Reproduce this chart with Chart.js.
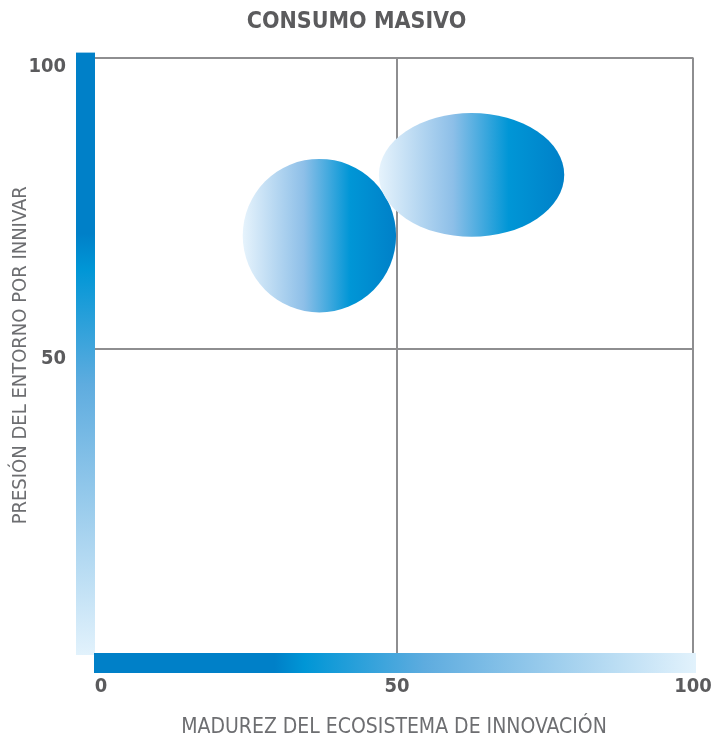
<!DOCTYPE html>
<html>
<head>
<meta charset="utf-8">
<script src="https://cdn.jsdelivr.net/npm/chart.js@4"></script>
<style>
  html, body { margin: 0; background: #fff; }
</style>
</head>
<body>
<canvas id="chart" width="713" height="740"></canvas>
<script>
// data
const sectors = ["Sector A", "Sector B"];
const madurez = [36.9, 62.6];        // x centre
const presion = [69.5, 79.9];        // y centre
const spanMadurez = [25.9, 31.3];    // bubble extent along x (axis units)
const spanPresion = [26.3, 21.2];    // bubble extent along y (axis units)
const tickValues = [0, 50, 100];

const FONT = "'Liberation Sans Narrow', 'DejaVu Sans Condensed', 'Roboto', sans-serif";
const DARK = "#0080c8";
const CYAN = "#0096d6";
const LIGHT = "#e2f2fc";

const points = madurez.map((x, i) => ({
  x,
  y: presion[i],
  sx: spanMadurez[i],
  sy: spanPresion[i],
  name: sectors[i],
}));

// axis colour bars beside the plot
const axisBars = {
  id: "axisBars",
  afterDraw(chart) {
    const { ctx, chartArea: a } = chart;
    ctx.save();
    // left bar: dark at top, light at bottom
    const top = a.top - 5, bot = a.bottom + 2;
    let g = ctx.createLinearGradient(0, top, 0, bot);
    g.addColorStop(0, DARK);
    g.addColorStop(0.3, DARK);
    g.addColorStop(0.36, CYAN);
    g.addColorStop(0.55, "#5eacdf");
    g.addColorStop(1, LIGHT);
    ctx.fillStyle = g;
    ctx.fillRect(a.left - 19, top, 19, bot - top);
    // bottom bar: dark at left, light at right
    const l = a.left - 1, r = a.right + 3;
    g = ctx.createLinearGradient(l, 0, r, 0);
    g.addColorStop(0, DARK);
    g.addColorStop(0.3, DARK);
    g.addColorStop(0.35, CYAN);
    g.addColorStop(0.55, "#5eacdf");
    g.addColorStop(1, LIGHT);
    ctx.fillStyle = g;
    ctx.fillRect(l, a.bottom, r - l, 20);
    ctx.restore();
  },
};

// draws each point as an ellipse whose extent comes from the scales
const ellipseBubbles = {
  id: "ellipseBubbles",
  afterDatasetsDraw(chart) {
    const { ctx, scales } = chart;
    const meta = chart.getDatasetMeta(0);
    ctx.save();
    meta.data.forEach((el, i) => {
      const p = points[i];
      const rx = Math.abs(scales.x.getPixelForValue(p.x + p.sx / 2) - el.x);
      const ry = Math.abs(scales.y.getPixelForValue(p.y + p.sy / 2) - el.y);
      const g = ctx.createLinearGradient(el.x - rx, 0, el.x + rx, 0);
      g.addColorStop(0, "#e6f3fc");
      g.addColorStop(0.4, "#8dbfe8");
      g.addColorStop(0.7, CYAN);
      g.addColorStop(1, DARK);
      ctx.fillStyle = g;
      ctx.beginPath();
      ctx.ellipse(el.x, el.y, rx, ry, 0, 0, Math.PI * 2);
      ctx.fill();
    });
    ctx.restore();
  },
};

const gridColor = (c) =>
  c.tick && c.tick.value === 0 ? "rgba(0,0,0,0)" : "#8e8e90";

new Chart(document.getElementById("chart"), {
  type: "scatter",
  data: {
    datasets: [
      {
        label: "Consumo masivo",
        data: points,
        pointRadius: 0,
        pointHoverRadius: 0,
      },
    ],
  },
  options: {
    responsive: false,
    animation: false,
    devicePixelRatio: 1,
    layout: { padding: 0 },
    plugins: {
      legend: { display: false },
      tooltip: { enabled: false },
      title: {
        display: true,
        text: "CONSUMO MASIVO",
        color: "#5b5b5d",
        font: { family: FONT, size: 23, weight: "bold" },
        padding: { top: 8, bottom: 22 },
      },
    },
    scales: {
      x: {
        type: "linear",
        min: -1,
        max: 100,
        afterBuildTicks: (s) => { s.ticks = tickValues.map((v) => ({ value: v })); },
        afterFit: (s) => { s.height = 87; s.paddingLeft = 0; s.paddingRight = 20; },
        border: { display: false },
        grid: { color: gridColor, lineWidth: 2, drawTicks: false },
        ticks: {
          padding: 22,
          color: "#5b5b5d",
          font: { family: FONT, size: 20, weight: "bold" },
          maxRotation: 0,
        },
        title: {
          display: true,
          text: "MADUREZ DEL ECOSISTEMA DE INNOVACIÓN",
          color: "#6d6e71",
          font: { family: FONT, size: 21 },
          padding: { top: 10, bottom: 0 },
        },
      },
      y: {
        type: "linear",
        min: -2,
        max: 100,
        afterBuildTicks: (s) => { s.ticks = tickValues.filter((v) => v > 0).map((v) => ({ value: v })); },
        afterFit: (s) => { s.width = 95; s.paddingTop = 0; s.paddingBottom = 0; },
        border: { display: false },
        grid: { color: gridColor, lineWidth: 2, drawTicks: false },
        ticks: {
          padding: 29,
          labelOffset: 9,
          color: "#5b5b5d",
          font: { family: FONT, size: 20, weight: "bold" },
        },
        title: {
          display: true,
          text: "PRESIÓN DEL ENTORNO POR INNIVAR",
          color: "#6d6e71",
          font: { family: FONT, size: 20 },
          padding: { top: 9, bottom: 0 },
        },
      },
    },
  },
  plugins: [axisBars, ellipseBubbles],
});
</script>
</body>
</html>
